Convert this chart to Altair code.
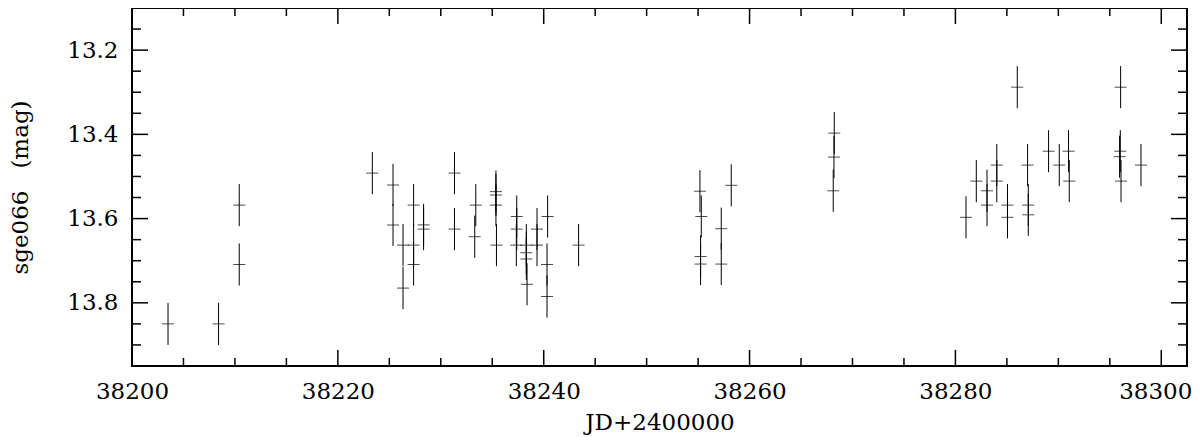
import altair as alt
import pandas as pd

# ---- data ----
jd = [38203.50, 38208.41, 38210.42, 38210.42, 38223.35, 38225.36, 38225.36,
      38226.33, 38226.33, 38227.36, 38227.36, 38227.36, 38228.33, 38228.33,
      38231.33, 38231.33, 38233.40, 38233.30, 38235.36, 38235.36, 38235.36,
      38235.41, 38237.38, 38237.38, 38237.34, 38238.31, 38238.31, 38238.31,
      38238.38, 38239.35, 38239.35, 38240.38, 38240.32, 38240.32, 38243.39,
      38255.18, 38255.31, 38255.24, 38255.24, 38257.25, 38257.25, 38258.22,
      38268.23, 38268.20, 38268.13, 38281.03, 38282.03, 38283.07, 38283.07,
      38284.02, 38284.02, 38285.06, 38285.06, 38286.01, 38287.01, 38287.08,
      38287.08, 38289.05, 38290.09, 38290.99, 38291.06, 38296.05, 38296.02,
      38295.95, 38296.09, 38298.03]
mag = [13.850, 13.850, 13.568, 13.709, 13.492, 13.520, 13.615,
       13.663, 13.765, 13.568, 13.663, 13.709, 13.615, 13.625,
       13.492, 13.625, 13.568, 13.643, 13.536, 13.544, 13.568,
       13.663, 13.595, 13.625, 13.663, 13.663, 13.681, 13.696,
       13.756, 13.625, 13.663, 13.595, 13.709, 13.785, 13.663,
       13.535, 13.595, 13.690, 13.708, 13.624, 13.708, 13.521,
       13.397, 13.454, 13.534, 13.597, 13.511, 13.534, 13.568,
       13.473, 13.511, 13.568, 13.597, 13.288, 13.473, 13.568,
       13.591, 13.440, 13.473, 13.440, 13.511, 13.288, 13.440,
       13.453, 13.511, 13.473]
err = [0.05, 0.05, 0.05, 0.05, 0.05, 0.05, 0.05,
       0.05, 0.05, 0.05, 0.05, 0.05, 0.05, 0.05,
       0.05, 0.05, 0.05, 0.05, 0.05, 0.05, 0.05,
       0.05, 0.05, 0.05, 0.05, 0.05, 0.05, 0.05,
       0.05, 0.05, 0.05, 0.05, 0.05, 0.05, 0.05,
       0.05, 0.05, 0.05, 0.05, 0.05, 0.05, 0.05,
       0.05, 0.05, 0.05, 0.05, 0.05, 0.05, 0.05,
       0.05, 0.05, 0.05, 0.05, 0.05, 0.05, 0.05,
       0.05, 0.05, 0.05, 0.05, 0.05, 0.05, 0.05,
       0.05, 0.05, 0.05]

x_major = [38200, 38220, 38240, 38260, 38280, 38300]
x_minor = [38205, 38210, 38215, 38225, 38230, 38235, 38245, 38250, 38255,
           38265, 38270, 38275, 38285, 38290, 38295]
y_major = [13.2, 13.4, 13.6, 13.8]
y_minor = [13.15, 13.25, 13.3, 13.35, 13.45, 13.5, 13.55, 13.65, 13.7,
           13.75, 13.85, 13.9]

x_domain = [38200, 38302.5]
y_domain = [13.1, 13.95]

W, H = 1055, 358
FONT = "DejaVu Serif"
FS = 23
TFS = 23

xs = alt.Scale(domain=x_domain, nice=False, zero=False)
ys = alt.Scale(domain=y_domain, reverse=True, nice=False, zero=False)

ax_x = alt.Axis(title="JD+2400000", values=x_major, format="d",
                labelFlush=False, labelPadding=14, titlePadding=8,
                labelOffset={"condition": {"test": "datum.value >= 38300",
                                           "value": -6},
                             "value": 0})
ax_y = alt.Axis(title="sge066\u00a0\u00a0\u00a0(mag)", values=y_major,
                format=".1f", labelFlush=False, labelPadding=14,
                titlePadding=34)

df = pd.DataFrame({"jd": jd, "mag": mag, "err": err})
base = alt.Chart(df).transform_calculate(
    lo="datum.mag - datum.err", hi="datum.mag + datum.err")

bars = base.mark_rule(color="black", strokeWidth=1).encode(
    x=alt.X("jd:Q", scale=xs, axis=ax_x),
    y=alt.Y("lo:Q", scale=ys, axis=ax_y),
    y2="hi:Q",
)
caps = base.mark_tick(orient="horizontal", size=12, thickness=1,
                      color="black").encode(
    x=alt.X("jd:Q", scale=xs, axis=ax_x),
    y=alt.Y("mag:Q", scale=ys, axis=ax_y),
)


def xticks(vals, length):
    d = alt.Chart(pd.DataFrame({"v": vals}))
    bot = d.mark_rule(color="black", strokeWidth=1.5).encode(
        x=alt.X("v:Q", scale=xs, axis=ax_x),
        y=alt.value(H), y2=alt.value(H - length))
    top = d.mark_rule(color="black", strokeWidth=1.5).encode(
        x=alt.X("v:Q", scale=xs, axis=ax_x),
        y=alt.value(0), y2=alt.value(length))
    return [bot, top]


def yticks(vals, length):
    d = alt.Chart(pd.DataFrame({"v": vals}))
    left = d.mark_rule(color="black", strokeWidth=1.5).encode(
        y=alt.Y("v:Q", scale=ys, axis=ax_y),
        x=alt.value(0), x2=alt.value(length))
    right = d.mark_rule(color="black", strokeWidth=1.5).encode(
        y=alt.Y("v:Q", scale=ys, axis=ax_y),
        x=alt.value(W), x2=alt.value(W - length))
    return [left, right]


layers = [bars, caps] + xticks(x_major, 16) + xticks(x_minor, 8) \
    + yticks(y_major, 16) + yticks(y_minor, 9)

chart = alt.layer(*layers).properties(
    width=W, height=H,
    autosize=alt.AutoSizeParams(type="none"),
    padding={"left": 124, "top": 0, "right": 5, "bottom": 70},
).configure_view(
    stroke="black", strokeWidth=2
).configure_axis(
    grid=False, ticks=False, tickSize=0, domain=False,
    labelFont=FONT, labelFontSize=FS, labelColor="black",
    titleFont=FONT, titleFontSize=TFS, titleFontWeight="normal",
    titleColor="black",
)

chart.save("out.html", embed_options={"renderer": "svg", "actions": False})
